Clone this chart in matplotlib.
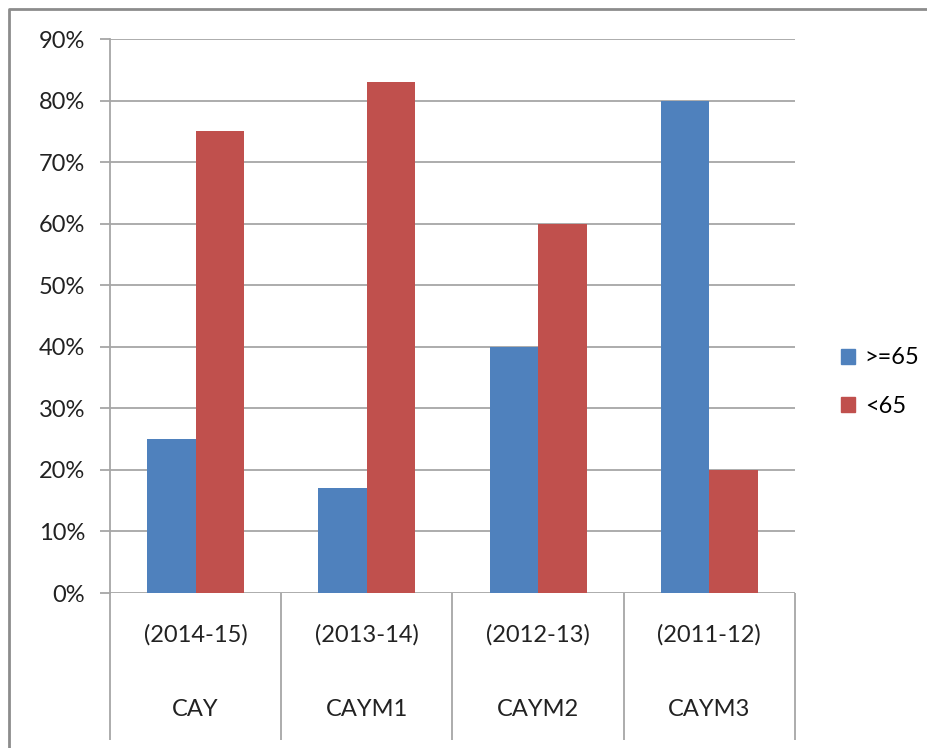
import matplotlib
matplotlib.use("Agg")
import matplotlib.pyplot as plt
from matplotlib.lines import Line2D
from matplotlib.patches import Patch
import numpy as np

# data
years = ["(2014-15)", "(2013-14)", "(2012-13)", "(2011-12)"]
names = ["CAY", "CAYM1", "CAYM2", "CAYM3"]
ge65 = [0.25, 0.17, 0.40, 0.80]
lt65 = [0.75, 0.83, 0.60, 0.20]
yticks = [0.0, 0.1, 0.2, 0.3, 0.4, 0.5, 0.6, 0.7, 0.8, 0.9]

blue = "#4F81BD"
red = "#C0504D"
grid = "#A6A6A6"
plt.rcParams['font.family'] = ['Lato', 'DejaVu Sans']
fs = 17

W, H = 928, 748
fig = plt.figure(figsize=(W / 100, H / 100), dpi=100)
ax = fig.add_axes([110 / W, (H - 593) / H, 685 / W, 554 / H])

x = np.arange(len(names)) + 0.5
bw = 0.283
ax.bar(x - bw / 2, ge65, bw, color=blue, label=">=65", zorder=3)
ax.bar(x + bw / 2, lt65, bw, color=red, label="<65", zorder=3)

ax.set_xlim(0, 4)
ax.set_ylim(0, 0.9)
ax.set_yticks(yticks)
ax.set_yticklabels(["%d%%" % round(v * 100) for v in yticks], fontsize=fs, color="#222222")
ax.yaxis.grid(True, color=grid, linewidth=1.3, zorder=0)
ax.tick_params(axis='y', length=7, width=1.3, color=grid, pad=11)
ax.set_xticks([])
for s in ['top', 'right', 'bottom']:
    ax.spines[s].set_visible(False)
ax.spines['left'].set_color(grid)
ax.spines['left'].set_linewidth(1.3)

# two-level category axis
tr = ax.get_xaxis_transform()
ax.vlines(np.arange(len(names) + 1), -0.265, 0, transform=tr, color=grid,
          linewidth=1.3, clip_on=False)
for i in range(len(names)):
    ax.text(x[i], -0.0758, years[i], transform=tr, ha='center', va='center',
            fontsize=fs, color="#222222")
    ax.text(x[i], -0.211, names[i], transform=tr, ha='center', va='center',
            fontsize=fs, color="#222222")

handles = [Patch(color=blue, label=">=65"), Patch(color=red, label="<65")]
fig.legend(handles=handles, loc='center left', bbox_to_anchor=(820 / W, 1 - 382 / H),
           frameon=False, fontsize=fs, handlelength=0.6, handleheight=0.6,
           handletextpad=0.4, labelspacing=1.15)

# outer chart frame
fig.add_artist(Line2D([9 / W, 9 / W, 1], [0, 1 - 9 / H, 1 - 9 / H],
                      transform=fig.transFigure, color="#8C8C8C", linewidth=2))

fig.savefig("out.png", dpi=100)
